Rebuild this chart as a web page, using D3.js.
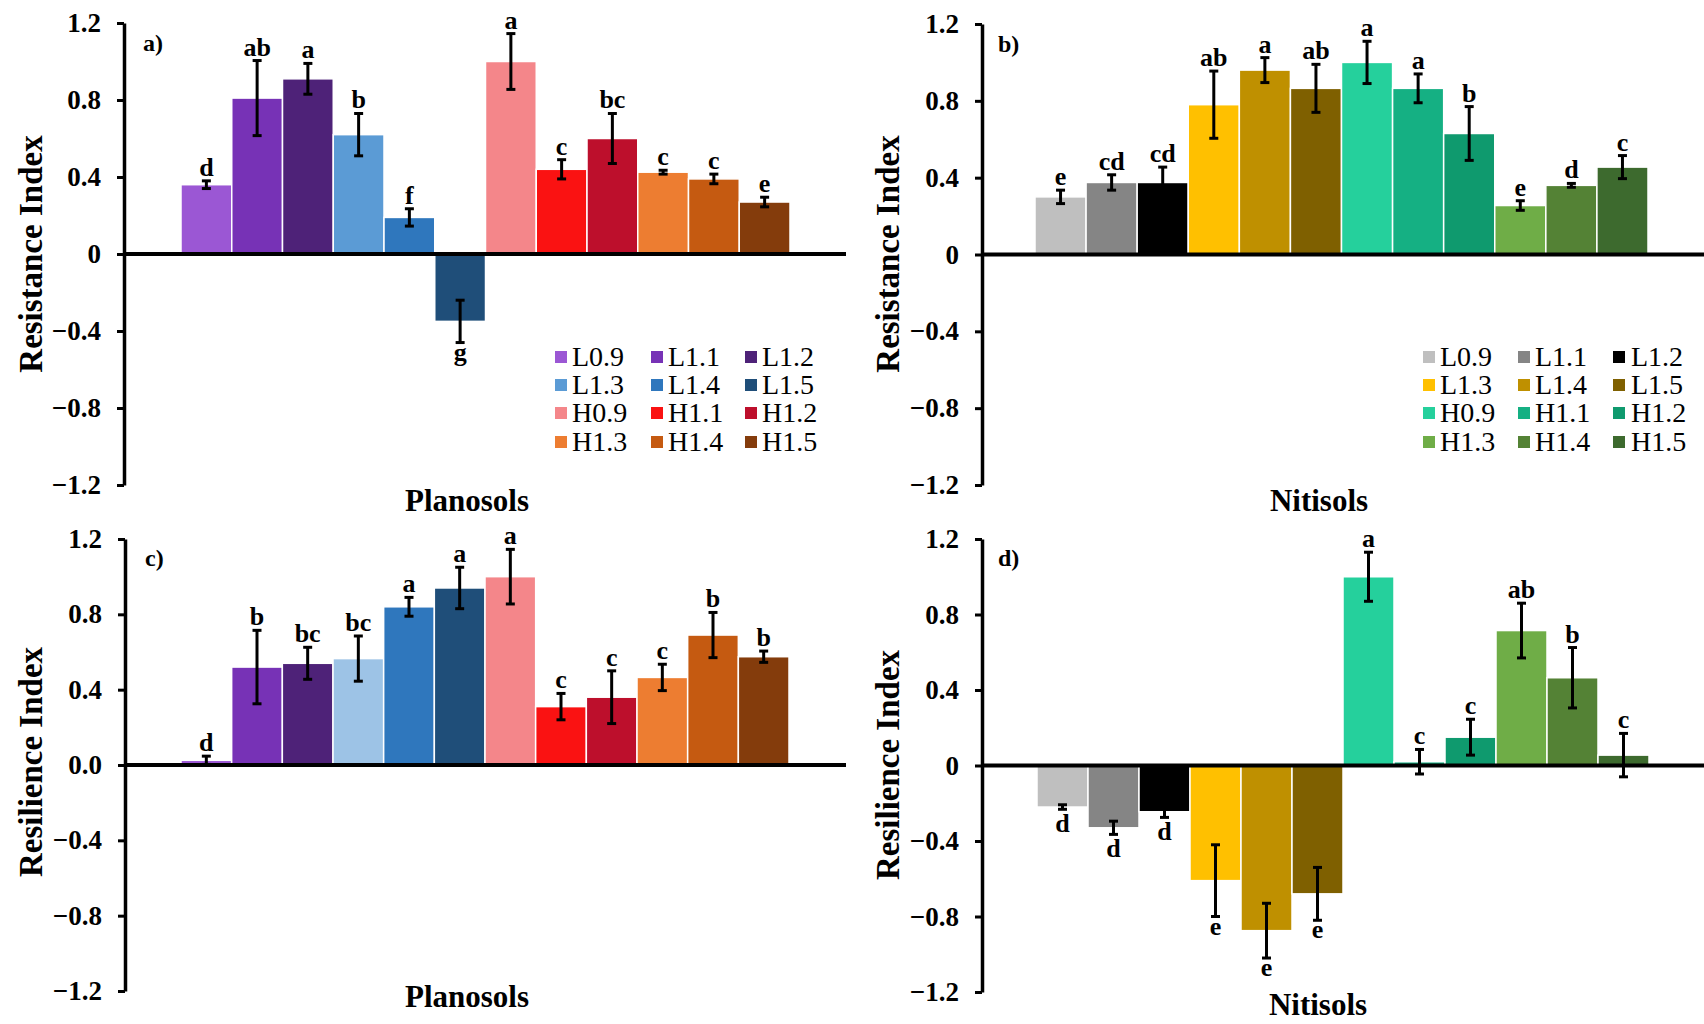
<!DOCTYPE html>
<html>
<head>
<meta charset="utf-8">
<script src="https://cdn.jsdelivr.net/npm/d3@7"></script>
<style>
  html, body { margin: 0; padding: 0; background: #ffffff; }
  svg text { font-family: "Liberation Serif", "Times New Roman", serif; }
</style>
</head>
<body>
<svg id="chart" width="1704" height="1024"></svg>
<script>
// ---------- data ----------
const series = ["L0.9","L1.1","L1.2","L1.3","L1.4","L1.5","H0.9","H1.1","H1.2","H1.3","H1.4","H1.5"];
const tickValues = [-1.2, -0.8, -0.4, 0, 0.4, 0.8, 1.2];

const resistPlanValues  = [0.36, 0.81, 0.91, 0.62, 0.19, -0.35, 1.00, 0.44, 0.60, 0.425, 0.39, 0.27];
const resistPlanErrors  = [0.02, 0.195, 0.08, 0.11, 0.045, 0.11, 0.145, 0.05, 0.13, 0.01, 0.025, 0.025];
const resistPlanLetters = ["d","ab","a","b","f","g","a","c","bc","c","c","e"];

const resistNitiValues  = [0.30, 0.375, 0.375, 0.78, 0.96, 0.865, 1.00, 0.865, 0.63, 0.255, 0.36, 0.455];
const resistNitiErrors  = [0.035, 0.04, 0.08, 0.175, 0.065, 0.125, 0.11, 0.075, 0.14, 0.025, 0.01, 0.06];
const resistNitiLetters = ["e","cd","cd","ab","a","ab","a","a","b","e","d","c"];

const resilPlanValues   = [0.025, 0.52, 0.54, 0.565, 0.84, 0.94, 1.00, 0.31, 0.36, 0.465, 0.69, 0.575];
const resilPlanErrors   = [0.022, 0.195, 0.085, 0.12, 0.05, 0.11, 0.145, 0.07, 0.14, 0.07, 0.12, 0.03];
const resilPlanLetters  = ["d","b","bc","bc","a","a","a","c","c","c","b","b"];

const resilNitiValues   = [-0.22, -0.33, -0.245, -0.61, -0.875, -0.68, 1.00, 0.02, 0.15, 0.715, 0.465, 0.055];
const resilNitiErrors   = [0.012, 0.035, 0.03, 0.19, 0.145, 0.14, 0.13, 0.065, 0.095, 0.145, 0.16, 0.115];
const resilNitiLetters  = ["d","d","d","e","e","e","a","c","c","ab","b","c"];

const colorsPlanA = ["#9b57d4","#7732b6","#4e2278","#5b9bd5","#2f77bd","#1f4e79",
                     "#f4868a","#fa1212","#bd0f2c","#ed7d31","#c55a11","#843c0c"];
const colorsPlanC = ["#9b57d4","#7732b6","#4e2278","#9dc3e6","#2f77bd","#1f4e79",
                     "#f4868a","#fa1212","#bd0f2c","#ed7d31","#c55a11","#843c0c"];
const colorsNiti  = ["#bfbfbf","#858585","#000000","#ffc000","#bf9000","#7f6000",
                     "#25d09c","#15b083","#0f9a6e","#6fad47","#548235","#3d6a2e"];

// ---------- layout ----------
const panels = [
  { values: resistPlanValues, errors: resistPlanErrors, letters: resistPlanLetters, colors: colorsPlanA,
    axisX: 124, lineEnd: 846, barL: 181, barR: 790, yTop: 23, yBot: 485,
    zeroLabel: "0", yTitle: "Resistance Index", titleX: 30, titleY: 254,
    xTitle: "Planosols", xTitleX: 467, xTitleY: 511, tag: "a)", tagX: 143, tagY: 51,
    legend: { sq: [555, 651, 745], tx: [572, 668, 762], rows: [357, 385, 413, 442] } },
  { values: resistNitiValues, errors: resistNitiErrors, letters: resistNitiLetters, colors: colorsNiti,
    axisX: 982, lineEnd: 1704, barL: 1035, barR: 1648, yTop: 24, yBot: 485,
    zeroLabel: "0", yTitle: "Resistance Index", titleX: 887, titleY: 254,
    xTitle: "Nitisols", xTitleX: 1319, xTitleY: 511, tag: "b)", tagX: 998, tagY: 52,
    legend: { sq: [1423, 1518, 1613], tx: [1440, 1535, 1631], rows: [357, 385, 413, 442] } },
  { values: resilPlanValues, errors: resilPlanErrors, letters: resilPlanLetters, colors: colorsPlanC,
    axisX: 125, lineEnd: 846, barL: 181, barR: 789, yTop: 539, yBot: 991,
    zeroLabel: "0.0", yTitle: "Resilience Index", titleX: 30, titleY: 762,
    xTitle: "Planosols", xTitleX: 467, xTitleY: 1007, tag: "c)", tagX: 145, tagY: 566,
    legend: null },
  { values: resilNitiValues, errors: resilNitiErrors, letters: resilNitiLetters, colors: colorsNiti,
    axisX: 982, lineEnd: 1704, barL: 1037, barR: 1649, yTop: 539, yBot: 992,
    zeroLabel: "0", yTitle: "Resilience Index", titleX: 887, titleY: 765,
    xTitle: "Nitisols", xTitleX: 1318, xTitleY: 1015, tag: "d)", tagX: 998, tagY: 566,
    legend: null }
];

const svg = d3.select("#chart");

panels.forEach(p => {
  const g = svg.append("g");
  const y = d3.scaleLinear().domain([-1.2, 1.2]).range([p.yBot, p.yTop]);
  const x = d3.scaleBand().domain(series).range([p.barL, p.barR]).padding(0);

  const data = series.map((s, i) => ({ s, v: p.values[i], e: p.errors[i], l: p.letters[i], c: p.colors[i] }));

  // bars
  g.selectAll("rect.bar").data(data).enter().append("rect")
    .attr("class", "bar")
    .attr("x", d => x(d.s))
    .attr("width", x.bandwidth())
    .attr("y", d => y(Math.max(0, d.v)))
    .attr("height", d => Math.abs(y(d.v) - y(0)))
    .attr("fill", d => d.c)
    .attr("stroke", "#ffffff")
    .attr("stroke-width", 1.5);

  // zero line
  g.append("line")
    .attr("x1", p.axisX).attr("x2", p.lineEnd)
    .attr("y1", y(0)).attr("y2", y(0))
    .attr("stroke", "#000").attr("stroke-width", 4);

  // y axis
  const axis = d3.axisLeft(y)
    .tickValues(tickValues)
    .tickSize(7)
    .tickSizeOuter(0)
    .tickPadding(16)
    .tickFormat(v => v === 0 ? p.zeroLabel : d3.format(".1f")(v));
  const ag = g.append("g").attr("transform", `translate(${p.axisX},0)`).call(axis);
  ag.select(".domain").attr("stroke", "#000").attr("stroke-width", 3.5);
  ag.selectAll(".tick line").attr("stroke", "#000").attr("stroke-width", 3);
  ag.selectAll(".tick text")
    .attr("fill", "#000")
    .style("font-family", "'Liberation Serif', serif")
    .style("font-weight", "bold")
    .style("font-size", "27px");

  // error bars
  const cap = 4.5;
  const eb = g.selectAll("g.err").data(data).enter().append("g").attr("class", "err");
  eb.append("line")
    .attr("x1", d => x(d.s) + x.bandwidth() / 2).attr("x2", d => x(d.s) + x.bandwidth() / 2)
    .attr("y1", d => y(d.v + d.e)).attr("y2", d => y(d.v - d.e))
    .attr("stroke", "#000").attr("stroke-width", 3);
  eb.append("line")
    .attr("x1", d => x(d.s) + x.bandwidth() / 2 - cap).attr("x2", d => x(d.s) + x.bandwidth() / 2 + cap)
    .attr("y1", d => y(d.v + d.e)).attr("y2", d => y(d.v + d.e))
    .attr("stroke", "#000").attr("stroke-width", 3);
  eb.append("line")
    .attr("x1", d => x(d.s) + x.bandwidth() / 2 - cap).attr("x2", d => x(d.s) + x.bandwidth() / 2 + cap)
    .attr("y1", d => y(d.v - d.e)).attr("y2", d => y(d.v - d.e))
    .attr("stroke", "#000").attr("stroke-width", 3);

  // significance letters
  g.selectAll("text.sig").data(data).enter().append("text")
    .attr("class", "sig")
    .attr("x", d => x(d.s) + x.bandwidth() / 2)
    .attr("y", d => {
      if (d.v >= 0) return y(d.v + d.e) - 5;
      const asc = /[bd]/.test(d.l) ? 23 : 18;
      return y(d.v - d.e) + asc;
    })
    .attr("text-anchor", "middle")
    .style("font-weight", "bold")
    .style("font-size", "26px")
    .attr("fill", "#000")
    .text(d => d.l);

  // y title
  g.append("text")
    .attr("transform", `translate(${p.titleX},${p.titleY}) rotate(-90)`)
    .attr("text-anchor", "middle")
    .attr("dy", "0.35em")
    .style("font-weight", "bold")
    .style("font-size", "33px")
    .attr("fill", "#000")
    .text(p.yTitle);

  // x title
  g.append("text")
    .attr("x", p.xTitleX).attr("y", p.xTitleY)
    .attr("text-anchor", "middle")
    .style("font-weight", "bold")
    .style("font-size", "31px")
    .attr("fill", "#000")
    .text(p.xTitle);

  // panel tag
  g.append("text")
    .attr("x", p.tagX).attr("y", p.tagY)
    .style("font-weight", "bold")
    .style("font-size", "24px")
    .attr("fill", "#000")
    .text(p.tag);

  // legend
  if (p.legend) {
    const L = p.legend;
    const lg = g.append("g");
    data.forEach((d, i) => {
      const col = i % 3, row = Math.floor(i / 3);
      lg.append("rect")
        .attr("x", L.sq[col]).attr("y", L.rows[row] - 6)
        .attr("width", 12).attr("height", 12)
        .attr("fill", d.c);
      lg.append("text")
        .attr("x", L.tx[col]).attr("y", L.rows[row] + 9)
        .style("font-size", "28px")
        .attr("fill", "#000")
        .text(d.s);
    });
  }
});
</script>
</body>
</html>
